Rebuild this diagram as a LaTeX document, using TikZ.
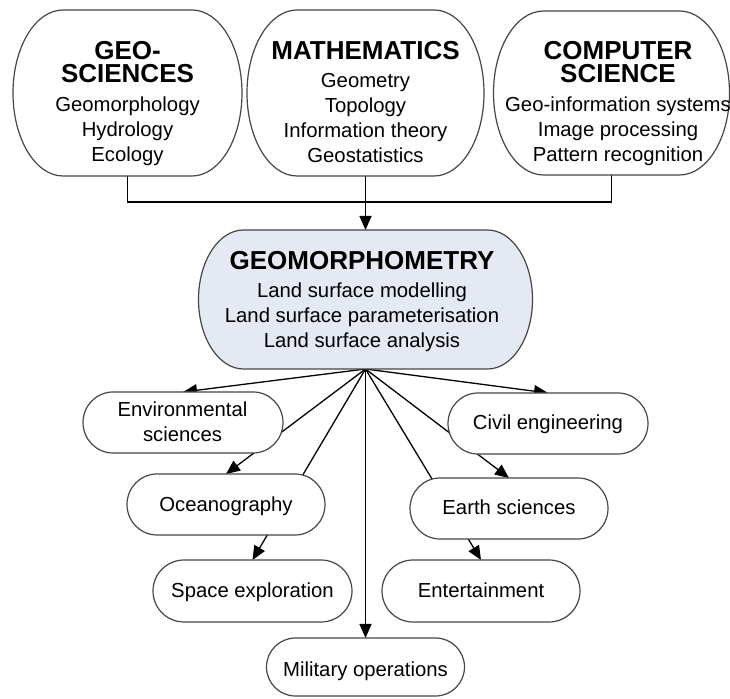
\documentclass[tikz,border=0pt]{standalone}
\usepackage{fontspec}
\setmainfont{Liberation Sans}
\usetikzlibrary{arrows.meta}
\definecolor{gmfill}{RGB}{228,233,243}
\definecolor{edgegray}{RGB}{70,70,70}
\pgfdeclarelayer{lines}
\pgfdeclarelayer{shapes}
\pgfsetlayers{lines,shapes,main}
\newcommand\bigbf{\fontsize{26}{28}\selectfont\bfseries}
\newcommand\regtext{\fontsize{20.3}{25}\selectfont}
% centred lines with a fixed baseline distance; baseline of the box = first line
\newcommand\textlines[2]{\vtop{\baselineskip=#1\lineskiplimit=-100pt\lineskip=0pt
  \halign{\hfil##\hfil\cr#2\crcr}}}
% frame: name, cx, cy, w, h, a, fill
\newcommand\frm[7]{%
  \node[frame, minimum width=#4pt, minimum height=#5pt] (#1) at (#2,#3) {};
  \begin{pgfonlayer}{shapes}
  \draw[boxline, fill=#7] ([xshift=#6pt]#1.north west) -- ([xshift=-#6pt]#1.north east)
    arc[start angle=90, end angle=-90, x radius=#6pt, y radius=#5pt/2]
    -- ([xshift=#6pt]#1.south west)
    arc[start angle=270, end angle=90, x radius=#6pt, y radius=#5pt/2] -- cycle;
  \end{pgfonlayer}}
% text block: name, x, first baseline y, content
\newcommand\txt[4]{\node[label] (#1) at (#2,#3) {\textlines{25pt}{#4}};}
\begin{document}
\begin{tikzpicture}[x=1pt,y=1pt,
  frame/.style={shape=rectangle, inner sep=0pt, outer sep=0pt, draw=none},
  label/.style={anchor=base, font=\regtext, inner sep=0pt},
  boxline/.style={draw=edgegray, line width=1.2pt},
  conn/.style={draw=black, line width=1.3pt},
  arr/.style={conn, -{Triangle[length=14pt,width=12pt]}}]
\useasboundingbox (0,0) rectangle (730,698);
\begin{pgfonlayer}{lines}
\fill[white] (0,0) rectangle (730,698);
\end{pgfonlayer}

\frm{geo}{127.5}{605}{229}{166}{50}{white}
\frm{math}{365.5}{605}{237}{166}{50}{white}
\frm{cs}{611.5}{605}{236}{164}{50}{white}
\frm{gm}{365.5}{398.5}{334}{139}{45}{gmfill}
\frm{env}{183}{275.5}{200}{61}{30}{white}
\frm{ocean}{226}{193.5}{198}{61}{30}{white}
\frm{space}{252.5}{107}{199}{62}{31}{white}
\frm{mil}{365.5}{31}{198}{58}{29}{white}
\frm{civil}{548}{274.5}{200}{61}{30}{white}
\frm{earth}{509}{189.5}{198}{61}{30}{white}
\frm{ent}{481}{107}{198}{62}{31}{white}

\begin{pgfonlayer}{lines}
\draw[conn] (geo.south) -- ++(0,-26) -| (cs.south);
\draw[arr] (math.south) -- (gm.north);
\foreach \t in {env,ocean,space,mil,civil,earth,ent}
  \draw[arr] (gm.south) -- (\t.north);
\end{pgfonlayer}

\txt{geo-t}{127.5}{638}{\bigbf GEO-\cr\noalign{\vskip-2pt}\bigbf SCIENCES\cr
  \noalign{\vskip4pt}Geomorphology\cr Hydrology\cr Ecology}
\txt{math-t}{365.5}{638}{\bigbf MATHEMATICS\cr\noalign{\vskip3pt}Geometry\cr
  Topology\cr Information theory\cr Geostatistics}
\txt{cs-t}{618}{638}{\bigbf COMPUTER\cr\noalign{\vskip-2pt}\bigbf SCIENCE\cr
  \noalign{\vskip4pt}Geo-information systems\cr Image processing\cr Pattern recognition}
\txt{gm-t}{362}{428}{\bigbf GEOMORPHOMETRY\cr\noalign{\vskip3pt}Land surface modelling\cr
  Land surface parameterisation\cr Land surface analysis}

\txt{env-t}{182.5}{281.3}{Environmental\cr sciences}
\txt{ocean-t}{226}{186.5}{Oceanography}
\txt{space-t}{252.5}{100}{Space exploration}
\txt{mil-t}{365.5}{22}{Military operations}
\txt{civil-t}{548}{268}{Civil engineering}
\txt{earth-t}{509}{183}{Earth sciences}
\txt{ent-t}{481}{100}{Entertainment}
\end{tikzpicture}
\end{document}
